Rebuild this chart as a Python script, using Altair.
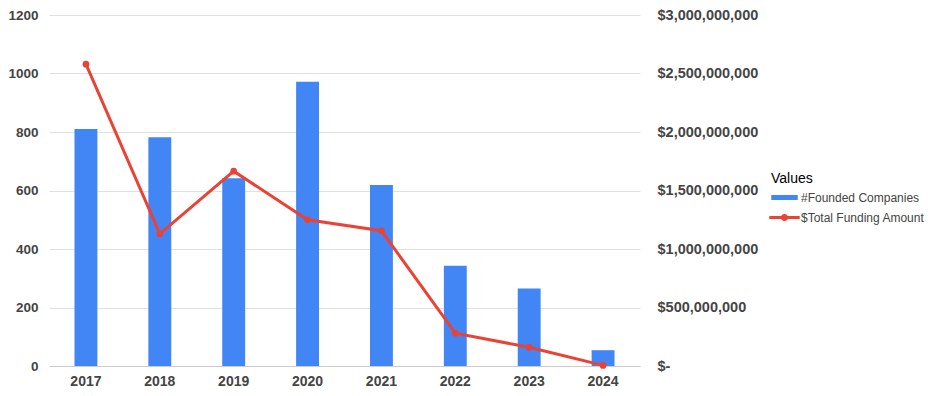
import altair as alt
import pandas as pd

years = ["2017", "2018", "2019", "2020", "2021", "2022", "2023", "2024"]
founded_companies = [810, 782, 642, 972, 619, 343, 265, 54]
total_funding = [2580000000, 1130000000, 1665000000, 1250000000, 1156000000, 280000000, 160000000, 5000000]
series_names = ["#Founded Companies", "$Total Funding Amount"]
series_colors = ["#4285F4", "#EA4335"]

df = pd.DataFrame({"Year": years, "Companies": founded_companies, "Funding": total_funding})
legend_df = pd.DataFrame({"Series": series_names})

FONT = "Liberation Sans"
x_enc = alt.X(
    "Year:N",
    sort=years,
    title=None,
    scale=alt.Scale(paddingInner=0.69, paddingOuter=0.345),
    axis=alt.Axis(labelAngle=0, labelFont=FONT, labelFontSize=14, labelFontWeight="bold",
                  labelColor="#444444", ticks=False, domainColor="#cccccc", labelPadding=8),
)

bars = alt.Chart(df).mark_bar(color=series_colors[0]).encode(
    x=x_enc,
    y=alt.Y("Companies:Q", title=None,
            scale=alt.Scale(domain=[0, 1200], nice=False),
            axis=alt.Axis(orient="left", values=[0, 200, 400, 600, 800, 1000, 1200], format="d",
                          labelFont=FONT, labelFontSize=13.5, labelFontWeight="bold",
                          labelColor="#444444", ticks=False, domain=False, labelPadding=11,
                          gridColor="#e0e0e0")),
)

line = alt.Chart(df).mark_line(
    color=series_colors[1], strokeWidth=3,
    point=alt.OverlayMarkDef(color=series_colors[1], filled=True, size=45, opacity=1),
).encode(
    x=x_enc,
    y=alt.Y("Funding:Q", title=None,
            scale=alt.Scale(domain=[0, 3000000000], nice=False),
            axis=alt.Axis(orient="right", grid=False,
                          values=[0, 500000000, 1000000000, 1500000000, 2000000000, 2500000000, 3000000000],
                          labelExpr="datum.value == 0 ? '$-' : '$' + format(datum.value, ',.0f')",
                          labelFont=FONT, labelFontSize=14.5, labelFontWeight="bold",
                          labelColor="#444444", ticks=False, domain=False, labelPadding=17)),
)

bar_path = "M-1,-0.19H1V0.19H-1Z"
line_path = "M-1.15,-0.11H1.15V0.11H-1.15Z M-0.27,0A0.27,0.27 0 1,1 0.27,0A0.27,0.27 0 1,1 -0.27,0Z"

legend_layer = alt.Chart(legend_df).mark_point(filled=True, opacity=0).encode(
    color=alt.Color("Series:N", scale=alt.Scale(domain=series_names, range=series_colors),
                    title="Values"),
    shape=alt.Shape("Series:N", scale=alt.Scale(domain=series_names, range=[bar_path, line_path]),
                    title="Values"),
)

chart = alt.layer(bars, line, legend_layer).resolve_scale(y="independent").properties(
    width=591, height=351,
    autosize=alt.AutoSizeParams(type="none"),
    padding={"left": 41, "top": 7, "right": 288, "bottom": 22},
).configure_view(stroke=None).configure_legend(
    orient="none", legendX=722, legendY=157,
    titleFont=FONT, titleFontSize=14, titleFontWeight="normal", titleColor="#000000",
    labelFont=FONT, labelFontSize=12, labelColor="#444444",
    symbolSize=700, symbolOpacity=1, symbolStrokeWidth=0, symbolStrokeColor="transparent",
    rowPadding=-6, titlePadding=-2, labelOffset=3,
)

chart.save("out.html", embed_options={"renderer": "svg", "actions": False})
